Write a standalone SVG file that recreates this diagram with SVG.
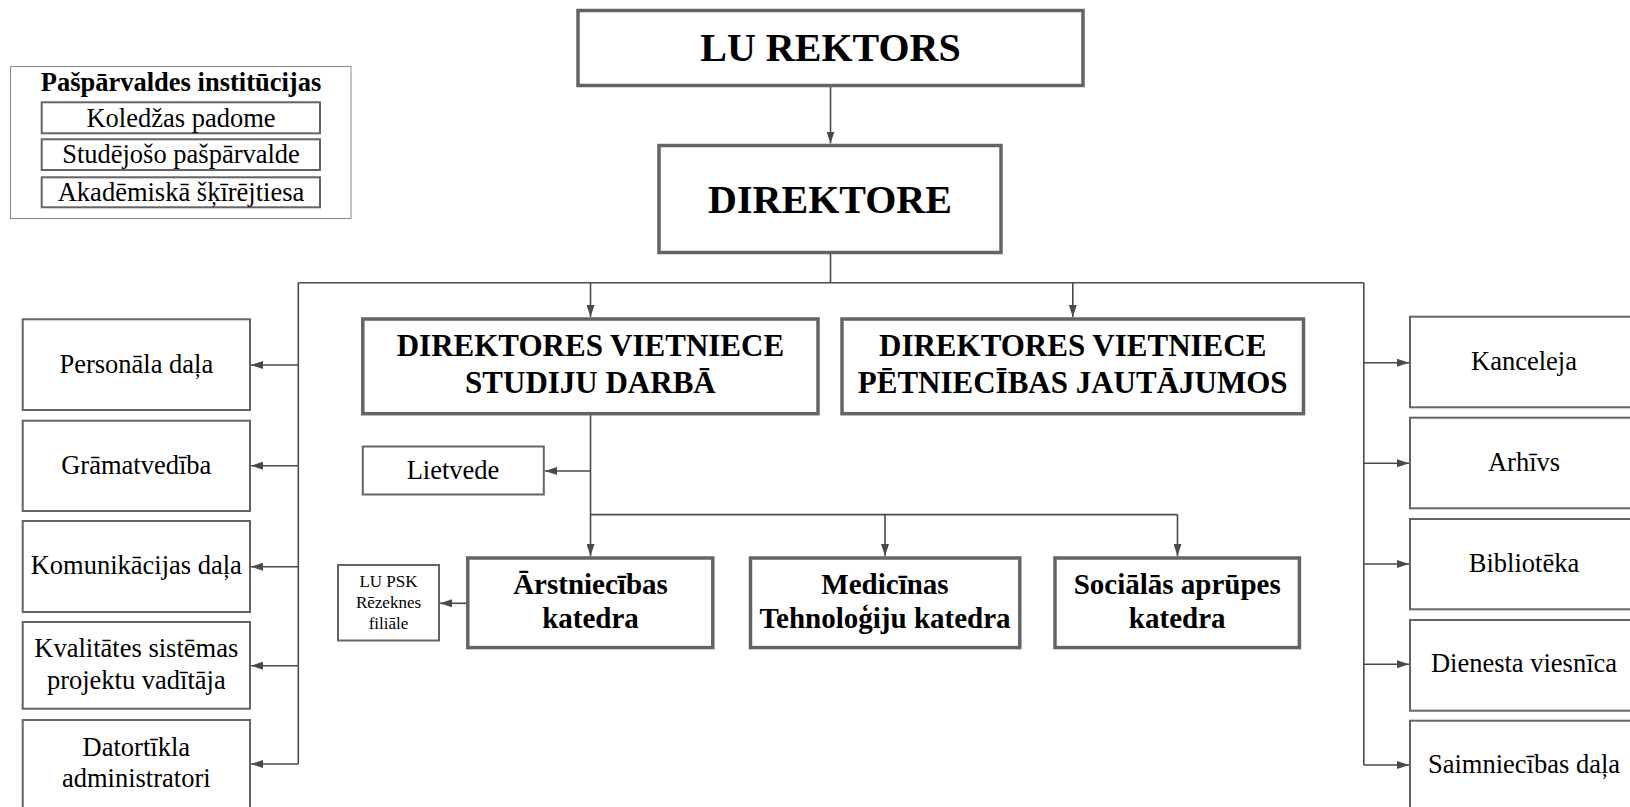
<svg xmlns="http://www.w3.org/2000/svg" width="1630" height="807" viewBox="0 0 1630 807">
<style>
text{font-family:"Liberation Serif","Times New Roman",serif;fill:#000;text-anchor:middle}
.b{font-weight:bold}
.main{fill:#fff;stroke:#646464;stroke-width:3.5}
.thin{fill:#fff;stroke:#646464;stroke-width:2}
.leg{fill:#fff;stroke:#8a8a8a;stroke-width:1}
.c{fill:none;stroke:#4a4a4a;stroke-width:1.6}
.t40{font-size:40px}
.t31{font-size:31px}
.t29{font-size:29px}
.t26{font-size:26.5px}
.t17{font-size:17px}
</style>
<defs>
<marker id="ah" markerWidth="12" markerHeight="8" refX="12" refY="4" orient="auto" markerUnits="userSpaceOnUse">
<path d="M0,0 L12,4 L0,8 Z" fill="#4a4a4a"/>
</marker>
</defs>
<rect width="1630" height="807" fill="#fff"/>

<g id="legend">
<rect class="leg" x="10.5" y="66.5" width="340.5" height="152"/>
<text class="b t26" x="181" y="91">Pašpārvaldes institūcijas</text>
<rect class="thin" x="41.7" y="102.3" width="278.3" height="31"/>
<text class="t26" x="181" y="126.5">Koledžas padome</text>
<rect class="thin" x="41.7" y="139.3" width="278.3" height="30.7"/>
<text class="t26" x="181" y="163.3">Studējošo pašpārvalde</text>
<rect class="thin" x="41.7" y="177.3" width="278.3" height="30"/>
<text class="t26" x="181" y="200.5">Akadēmiskā šķīrējtiesa</text>
</g>

<g id="connectors">
<line class="c" x1="830.5" y1="86" x2="830.5" y2="143.5" marker-end="url(#ah)"/>
<line class="c" x1="830.5" y1="254" x2="830.5" y2="282.7"/>
<line class="c" x1="298.3" y1="282.7" x2="1363.8" y2="282.7"/>
<line class="c" x1="590.5" y1="282.7" x2="590.5" y2="317" marker-end="url(#ah)"/>
<line class="c" x1="1072.8" y1="282.7" x2="1072.8" y2="317" marker-end="url(#ah)"/>
<polyline class="c" points="298.3,282.7 298.3,764"/>
<polyline class="c" points="1363.8,282.7 1363.8,765"/>
<line class="c" x1="298.3" y1="365" x2="251" y2="365" marker-end="url(#ah)"/>
<line class="c" x1="298.3" y1="465.7" x2="251" y2="465.7" marker-end="url(#ah)"/>
<line class="c" x1="298.3" y1="566.7" x2="251" y2="566.7" marker-end="url(#ah)"/>
<line class="c" x1="298.3" y1="665.7" x2="251" y2="665.7" marker-end="url(#ah)"/>
<line class="c" x1="298.3" y1="764" x2="251" y2="764" marker-end="url(#ah)"/>
<line class="c" x1="1363.8" y1="362.7" x2="1409" y2="362.7" marker-end="url(#ah)"/>
<line class="c" x1="1363.8" y1="463.3" x2="1409" y2="463.3" marker-end="url(#ah)"/>
<line class="c" x1="1363.8" y1="564" x2="1409" y2="564" marker-end="url(#ah)"/>
<line class="c" x1="1363.8" y1="664.3" x2="1409" y2="664.3" marker-end="url(#ah)"/>
<line class="c" x1="1363.8" y1="765" x2="1409" y2="765" marker-end="url(#ah)"/>
<line class="c" x1="590.5" y1="415" x2="590.5" y2="556" marker-end="url(#ah)"/>
<line class="c" x1="590.5" y1="471" x2="545" y2="471" marker-end="url(#ah)"/>
<polyline class="c" points="590.5,514.6 1177.5,514.6"/>
<line class="c" x1="885" y1="514.6" x2="885" y2="556" marker-end="url(#ah)"/>
<line class="c" x1="1177.5" y1="514.6" x2="1177.5" y2="556" marker-end="url(#ah)"/>
<line class="c" x1="467" y1="603.3" x2="440" y2="603.3" marker-end="url(#ah)"/>
</g>

<g id="lu-rektors">
<rect class="main" x="578" y="10.5" width="505" height="75"/>
<text class="b t40" x="830.5" y="61">LU REKTORS</text>
</g>
<g id="direktore">
<rect class="main" x="659" y="145.5" width="342" height="107"/>
<text class="b t40" x="830" y="213">DIREKTORE</text>
</g>
<g id="dv-studiju">
<rect class="main" x="362.8" y="319" width="455.2" height="94.7"/>
<text class="b t31" x="590.4" y="355.5">DIREKTORES VIETNIECE</text>
<text class="b t31" x="590.4" y="393">STUDIJU DARBĀ</text>
</g>
<g id="dv-petniecibas">
<rect class="main" x="842" y="319" width="461.5" height="94.7"/>
<text class="b t31" x="1072.7" y="355.5">DIREKTORES VIETNIECE</text>
<text class="b t31" x="1072.7" y="393">PĒTNIECĪBAS JAUTĀJUMOS</text>
</g>
<g id="lietvede">
<rect class="thin" x="362.8" y="446.5" width="181" height="48"/>
<text class="t26" x="453" y="479">Lietvede</text>
</g>
<g id="arstniecibas">
<rect class="main" x="467.8" y="558" width="245" height="89.6"/>
<text class="b t29" x="590.5" y="594">Ārstniecības</text>
<text class="b t29" x="590.5" y="628">katedra</text>
</g>
<g id="medicinas">
<rect class="main" x="750.5" y="558" width="269.3" height="89.6"/>
<text class="b t29" x="885" y="594">Medicīnas</text>
<text class="b t29" x="885" y="628">Tehnoloģiju katedra</text>
</g>
<g id="socialas">
<rect class="main" x="1055" y="558" width="244.4" height="89.6"/>
<text class="b t29" x="1177.2" y="594">Sociālās aprūpes</text>
<text class="b t29" x="1177.2" y="628">katedra</text>
</g>
<g id="lu-psk">
<rect class="thin" x="338" y="565" width="101" height="75.5"/>
<text class="t17" x="388.5" y="587">LU PSK</text>
<text class="t17" x="388.5" y="608">Rēzeknes</text>
<text class="t17" x="388.5" y="629">filiāle</text>
</g>

<g id="personala">
<rect class="thin" x="22.7" y="319.3" width="227.3" height="90.7"/>
<text class="t26" x="136.3" y="373">Personāla daļa</text>
</g>
<g id="gramatvediba">
<rect class="thin" x="22.7" y="420.7" width="227.3" height="90.3"/>
<text class="t26" x="136.3" y="473.5">Grāmatvedība</text>
</g>
<g id="komunikacijas">
<rect class="thin" x="22.7" y="521" width="227.3" height="91"/>
<text class="t26" x="136.3" y="574">Komunikācijas daļa</text>
</g>
<g id="kvalitates">
<rect class="thin" x="22.7" y="622" width="227.3" height="86.7"/>
<text class="t26" x="136.3" y="657.3">Kvalitātes sistēmas</text>
<text class="t26" x="136.3" y="689.3">projektu vadītāja</text>
</g>
<g id="datortikla">
<rect class="thin" x="22.7" y="720" width="227.3" height="92"/>
<text class="t26" x="136.3" y="755.7">Datortīkla</text>
<text class="t26" x="136.3" y="787.3">administratori</text>
</g>

<g id="kanceleja">
<rect class="thin" x="1410" y="316.7" width="228" height="90.6"/>
<text class="t26" x="1524" y="370">Kanceleja</text>
</g>
<g id="arhivs">
<rect class="thin" x="1410" y="417.7" width="228" height="90.6"/>
<text class="t26" x="1524" y="471">Arhīvs</text>
</g>
<g id="biblioteka">
<rect class="thin" x="1410" y="519" width="228" height="90.3"/>
<text class="t26" x="1524" y="571.7">Bibliotēka</text>
</g>
<g id="dienesta">
<rect class="thin" x="1410" y="620" width="228" height="90.7"/>
<text class="t26" x="1524" y="671.7">Dienesta viesnīca</text>
</g>
<g id="saimniecibas">
<rect class="thin" x="1410" y="720.7" width="228" height="92"/>
<text class="t26" x="1524" y="773.3">Saimniecības daļa</text>
</g>
</svg>
